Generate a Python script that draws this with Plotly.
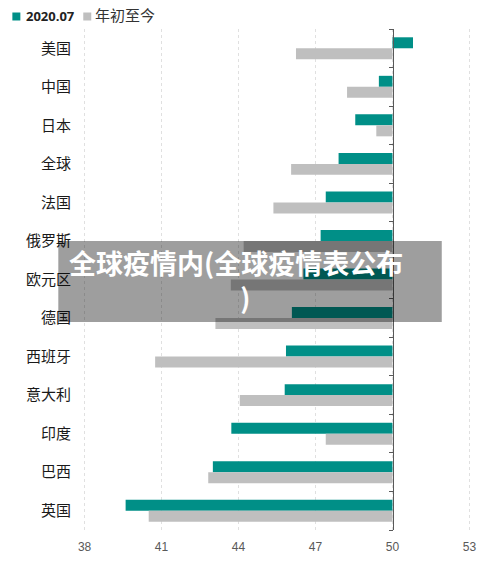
import plotly.graph_objects as go

categories = ["美国", "中国", "日本", "全球", "法国", "俄罗斯", "欧元区", "德国", "西班牙", "意大利", "印度", "巴西", "英国"]
series_2020_07 = [50.8, 49.47, 48.55, 47.9, 47.4, 47.2, 46.53, 46.08, 45.85, 45.8, 43.72, 43.0, 39.6]
series_ytd = [46.24, 48.23, 49.37, 46.05, 45.36, 44.2, 43.7, 43.1, 40.75, 44.05, 47.4, 42.82, 40.5]
x_ticks = [38, 41, 44, 47, 50, 53]
BASE = 50
TEAL, GREY = "#008F87", "#BFBFBF"
W, H = 500, 564
L, R, T, B = 81.73, 27.73, 29, 34

def px(v): return (v - L) / (W - L - R)
def py(v): return 1 - (v - T) / (H - T - B)

fig = go.Figure()
fig.add_bar(y=categories, x=[v - BASE for v in series_2020_07], base=BASE, orientation="h",
            name="2020.07", marker=dict(color=TEAL, line_width=0), showlegend=False)
fig.add_bar(y=categories, x=[v - BASE for v in series_ytd], base=BASE, orientation="h",
            name="年初至今", marker=dict(color=GREY, line_width=0), showlegend=False)
# invisible trace that brings up the central axis with tick marks on the category boundaries
fig.add_scatter(x=[BASE], y=[0], yaxis="y2", mode="markers", marker=dict(opacity=0), showlegend=False, hoverinfo="skip")

def swatch(x0, color):
    return dict(type="rect", xref="paper", yref="paper", x0=px(x0), x1=px(x0 + 8), y0=py(20.5), y1=py(12.5),
                fillcolor=color, line_width=0)

def note(text, x, y, size, xanchor="center", family="Noto Sans CJK SC", color="white"):
    return dict(text=text, xref="paper", yref="paper", x=px(x), y=py(y), showarrow=False,
                xanchor=xanchor, yanchor="middle", font=dict(family=family, size=size, color=color))

fig.update_layout(
    width=W, height=H, margin=dict(l=L, r=R, t=T, b=B, pad=0, autoexpand=False),
    paper_bgcolor="white", plot_bgcolor="white", barmode="group", bargap=0.43, bargroupgap=0,
    font=dict(family="Noto Sans CJK SC", color="#222222"), showlegend=False,
    xaxis=dict(range=[37.9, 53.1], tickvals=x_ticks, ticktext=[str(t) for t in x_ticks], showline=False, zeroline=False,
               showgrid=True, gridcolor="#E0E0E0", griddash="3px,3px", gridwidth=1,
               ticks="outside", ticklen=6, tickcolor="rgba(0,0,0,0)",
               tickfont=dict(family="Liberation Sans", size=12, color="#595959")),
    yaxis=dict(type="category", categoryorder="array", categoryarray=categories, autorange="reversed",
               showgrid=False, zeroline=False, showline=False, ticks="outside", ticklen=7, tickcolor="rgba(0,0,0,0)",
               tickfont=dict(family="Noto Sans CJK SC", size=15, color="#1A1A1A")),
    yaxis2=dict(overlaying="y", anchor="free", position=px(392.7), side="left", range=[13, 0], tick0=0, dtick=1,
                showticklabels=False, ticks="outside", ticklen=4, tickcolor="#595959", showline=True,
                linecolor="#595959", linewidth=1, showgrid=False, zeroline=False),
    shapes=[swatch(12, TEAL), swatch(83, GREY),
            dict(type="rect", xref="paper", yref="paper", x0=px(58), x1=px(442), y0=py(322), y1=py(241),
                 fillcolor="rgba(0,0,0,0.38)", line_width=0, layer="above")],
    annotations=[
        note("<b>2020.07</b>", 24, 16, 13, "left", "Open Sans", "#222222"),
        note("年初至今", 93, 15, 15, "left", "Noto Sans CJK SC", "#333333"),
        note("<b>全球疫情内(全球疫情表公布</b><br><b>\u00a0\u00a0\u00a0)</b>", 236, 279.5, 27),
    ],
)
fig.write_html("out.html", post_script="document.body.style.margin='0';", config={"displayModeBar": False})
